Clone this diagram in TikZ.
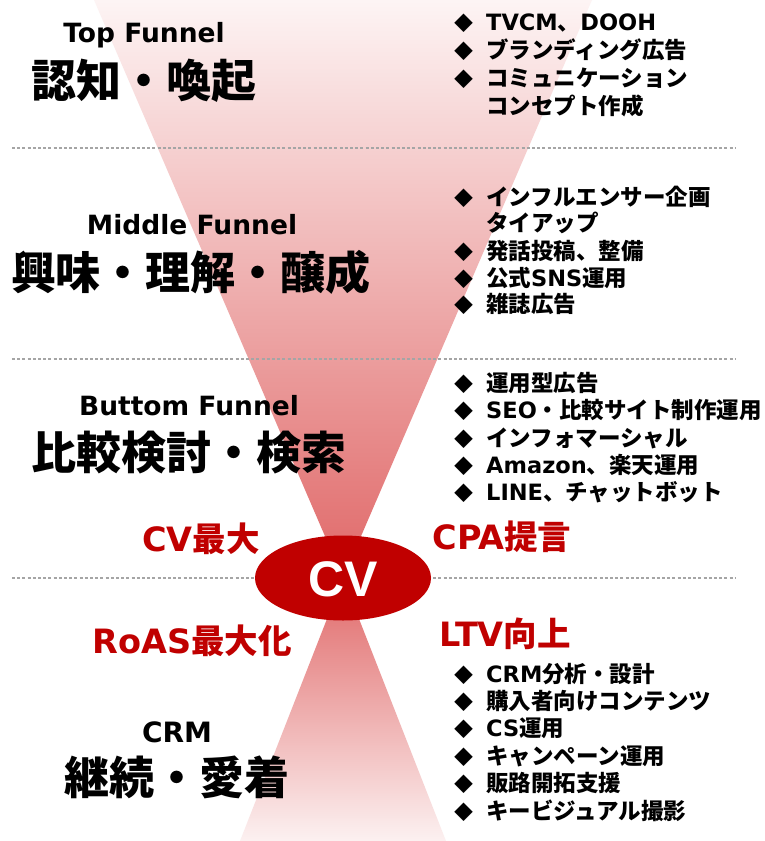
\documentclass[tikz,border=0pt]{standalone}
\usepackage{fontspec}
\usetikzlibrary{shapes.geometric}
\setmainfont{Noto Sans CJK JP}
\newfontfamily\lat{DejaVu Sans}
\newfontfamily\latn{Liberation Sans}
\definecolor{cvred}{RGB}{192,0,0}
\definecolor{fdark}{RGB}{224,104,104}
\definecolor{flighttop}{RGB}{253,244,244}
\definecolor{flightbot}{RGB}{252,241,241}
\definecolor{sepgray}{RGB}{165,165,165}
\newcommand\bitem[4]{%
  \node[bul] (b#1) at (464,#2) {◆};
  \node[itm] (t#1) at (486,#2) {#3#4};}
\newcommand\citem[3]{\node[itm] (t#1) at (486,#2) {#3};}
\begin{document}
\begin{tikzpicture}[x=1pt,y=-1pt,
  jbig/.style={inner sep=0pt, text height=34pt, text depth=0pt,
    font=\fontsize{45}{54}\selectfont\bfseries},
  ebig/.style={inner sep=0pt, text height=19pt, text depth=0pt,
    font=\lat\fontsize{26.5}{31}\selectfont\bfseries},
  redlab/.style={inner sep=0pt, text height=25pt, text depth=0pt, text=cvred,
    font=\fontsize{33.5}{40}\selectfont\bfseries},
  itm/.style={anchor=west, inner sep=0pt, text height=17pt, text depth=0pt,
    font=\fontsize{22.5}{27}\selectfont\bfseries},
  bul/.style={inner sep=0pt, text height=16pt, text depth=0pt,
    font=\fontsize{19}{23}\selectfont},
  sep/.style={draw=sepgray, line width=1.1pt, dash pattern=on 3pt off 2.2pt},
  cvell/.style={ellipse, fill=cvred, minimum width=176pt, minimum height=85pt, inner sep=0pt}
]
\useasboundingbox (0,0) rectangle (764,841);
\fill[white] (0,0) rectangle (764,841);
% funnels
\coordinate (apex) at (343,578);
\shade[top color=flighttop, bottom color=fdark] (94,0) -- (592,0) -- (apex) -- cycle;
\shade[top color=fdark, bottom color=flightbot] (apex) -- (446,841) -- (240,841) -- cycle;
% separators
\coordinate (s1l) at (12,148); \coordinate (s1r) at (735,148);
\coordinate (s2l) at (12,359); \coordinate (s2r) at (735,359);
\coordinate (s3l) at (12,578); \coordinate (s3r) at (735,578);
\draw[sep] (s1l) -- (s1r);
\draw[sep] (s2l) -- (s2r);
\draw[sep] (s3l) -- (s3r);
% CV ellipse
\node[cvell] (cv) at (apex) {};
\node[inner sep=0pt, text height=36pt, text depth=0pt, text=white,
  font=\latn\fontsize{50}{60}\selectfont\bfseries] (cvt) at (343,578) {CV};
% left headings
\node[ebig] (h1e) at (144,33) {Top Funnel};
\node[jbig] (h1j) at (144,80) {認知・喚起};
\node[ebig] (h2e) at (192,225) {Middle Funnel};
\node[jbig] (h2j) at (191,272) {興味・理解・醸成};
\node[ebig] (h3e) at (189,406) {Buttom Funnel};
\node[jbig] (h3j) at (189,452) {比較検討・検索};
\node[ebig, font=\lat\fontsize{28}{33}\selectfont\bfseries] (h4e) at (177,733) {CRM};
\node[jbig] (h4j) at (177,777) {継続・愛着};
% red labels
\node[redlab] (r1) at (201,539) {{\lat CV}最大};
\node[redlab] (r2) at (502,537) {{\lat CPA}提言};
\node[redlab] (r3) at (192,641) {{\lat RoAS}最大化};
\node[redlab] (r4) at (505,634) {{\lat LTV}向上};
% right lists
\bitem{a1}{22}{{\lat TVCM}、{\lat DOOH}}{}
\bitem{a2}{50}{ブランディング広告}{}
\bitem{a3}{78}{コミュニケーション}{}
\citem{a4}{106}{コンセプト作成}
\bitem{b1}{197}{インフルエンサー企画}{}
\citem{b2}{223}{タイアップ}
\bitem{b3}{251}{発話投稿、整備}{}
\bitem{b4}{278}{公式{\lat SNS}運用}{}
\bitem{b5}{304}{雑誌広告}{}
\bitem{c1}{383}{運用型広告}{}
\bitem{c2}{410}{{\lat SEO}・比較サイト制作運用}{}
\bitem{c3}{438}{インフォマーシャル}{}
\bitem{c4}{465}{{\lat Amazon}、楽天運用}{}
\bitem{c5}{492}{{\lat LINE}、チャットボット}{}
\bitem{d1}{674}{{\lat CRM}分析・設計}{}
\bitem{d2}{701}{購入者向けコンテンツ}{}
\bitem{d3}{728}{{\lat CS}運用}{}
\bitem{d4}{756}{キャンペーン運用}{}
\bitem{d5}{783}{販路開拓支援}{}
\bitem{d6}{811}{キービジュアル撮影}{}
\end{tikzpicture}
\end{document}
